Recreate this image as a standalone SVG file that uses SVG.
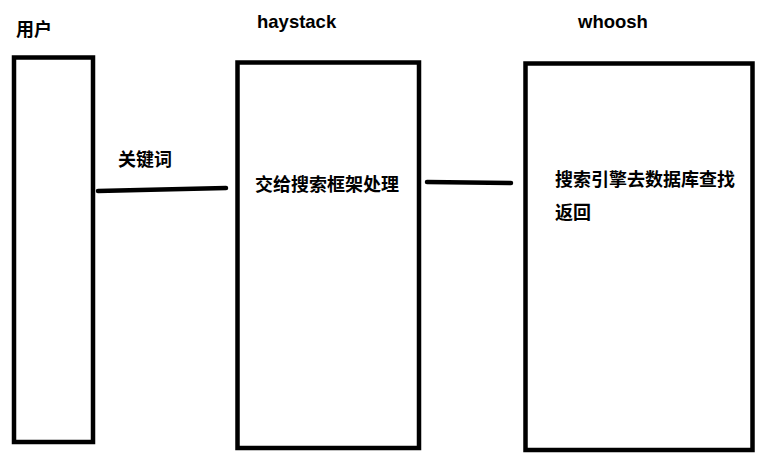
<svg xmlns="http://www.w3.org/2000/svg" width="768" height="461" viewBox="0 0 768 461">
<style>
.box{fill:#fff;stroke:#000;stroke-width:4.5}
.t{font-family:"Noto Sans CJK SC","Liberation Sans",sans-serif;font-weight:bold;font-size:18px;fill:#000}
.l{font-family:"Liberation Sans","Noto Sans",sans-serif;font-weight:bold;font-size:18.5px;fill:#000}
.c{stroke:#000;stroke-width:4.5;stroke-linecap:round;fill:none}
</style>
<rect width="768" height="461" fill="#fff"/>
<g id="user">
<rect class="box" x="14" y="57.5" width="79" height="384.5"/>
<text class="t" x="16" y="36">用户</text>
</g>
<g id="haystack">
<rect class="box" x="237.5" y="62.5" width="181.5" height="385.5"/>
<text class="l" x="257" y="28">haystack</text>
<text class="t" x="255" y="191">交给搜索框架处理</text>
</g>
<g id="whoosh">
<rect class="box" x="525.5" y="63.5" width="227" height="386.5"/>
<text class="l" x="578" y="28">whoosh</text>
<text class="t" x="555" y="186">搜索引擎去数据库查找</text>
<text class="t" x="555" y="219">返回</text>
</g>
<g id="connectors">
<path class="c" d="M98 191 L140 190 L226 188"/>
<text class="t" x="118" y="166">关键词</text>
<path class="c" d="M427 182 L511 183"/>
</g>
</svg>
